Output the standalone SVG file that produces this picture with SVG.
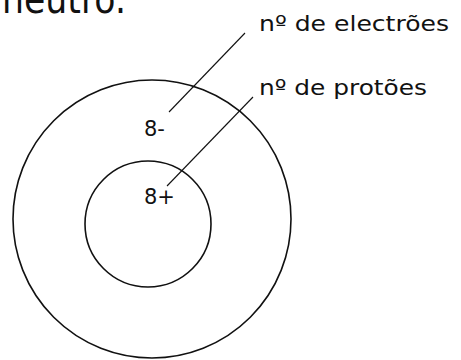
<svg xmlns="http://www.w3.org/2000/svg" width="461" height="360" viewBox="0 0 461 360">
<style>
.c{fill:none;stroke:#111;stroke-width:1.6}
.l{stroke:#111;stroke-width:1.1}
.t{font-family:"DejaVu Sans","Liberation Sans",sans-serif;fill:#111}
</style>
<rect width="461" height="360" fill="#fff"/>
<text class="t" x="2" y="13" font-size="40" textLength="124" lengthAdjust="spacingAndGlyphs">neutro.</text>
<g id="outer"><circle class="c" cx="152" cy="219" r="139"/><text class="t" x="144" y="136" font-size="21">8-</text></g>
<g id="inner"><circle class="c" cx="148" cy="224" r="63"/><text class="t" x="144" y="204" font-size="21">8+</text></g>
<g id="connectors"><line class="l" x1="245" y1="33" x2="169" y2="112"/><line class="l" x1="253" y1="97" x2="167" y2="186"/></g>
<g id="label1"><text class="t" x="259" y="31" font-size="22" textLength="190" lengthAdjust="spacingAndGlyphs">nº de electrões</text></g>
<g id="label2"><text class="t" x="259" y="95" font-size="22" textLength="168" lengthAdjust="spacingAndGlyphs">nº de protões</text></g>
</svg>
